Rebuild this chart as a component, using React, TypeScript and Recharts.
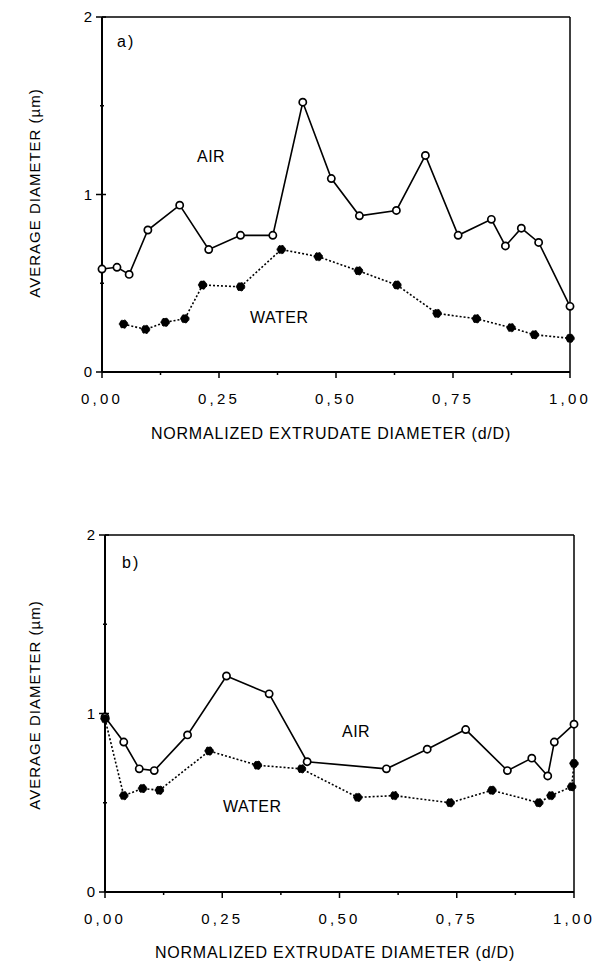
import { LineChart, Line, XAxis, YAxis, ReferenceLine } from 'recharts';

// panel a) values
const airTopX = [0, 0.032, 0.058, 0.098, 0.166, 0.228, 0.296, 0.365, 0.429, 0.49, 0.55, 0.629, 0.691, 0.761, 0.832, 0.862, 0.896, 0.933, 1.0];
const airTopY = [0.58, 0.59, 0.55, 0.8, 0.94, 0.69, 0.77, 0.77, 1.52, 1.09, 0.88, 0.91, 1.22, 0.77, 0.86, 0.71, 0.81, 0.73, 0.37];
const waterTopX = [0.046, 0.093, 0.135, 0.177, 0.215, 0.296, 0.383, 0.462, 0.548, 0.63, 0.716, 0.8, 0.874, 0.924, 1.0];
const waterTopY = [0.27, 0.24, 0.28, 0.3, 0.49, 0.48, 0.69, 0.65, 0.57, 0.49, 0.33, 0.3, 0.25, 0.21, 0.19];

// panel b)
const airBotX = [0, 0.04, 0.073, 0.105, 0.176, 0.259, 0.35, 0.431, 0.6, 0.687, 0.769, 0.858, 0.91, 0.944, 0.958, 1.0];
const airBotY = [0.98, 0.84, 0.69, 0.68, 0.88, 1.21, 1.11, 0.73, 0.69, 0.8, 0.91, 0.68, 0.75, 0.65, 0.84, 0.94];
const waterBotX = [0, 0.04, 0.08, 0.116, 0.222, 0.325, 0.419, 0.539, 0.617, 0.736, 0.825, 0.925, 0.951, 0.995, 1.0];
const waterBotY = [0.97, 0.54, 0.58, 0.57, 0.79, 0.71, 0.69, 0.53, 0.54, 0.5, 0.57, 0.5, 0.54, 0.59, 0.72];

const xTicks = [0, 0.125, 0.25, 0.375, 0.5, 0.625, 0.75, 0.875, 1];
const xLabels = ['0,00', '', '0,25', '', '0,50', '', '0,75', '', '1,00'];
const yTicks = [0, 0.5, 1, 1.5, 2];
const yLabels = ['0', '', '1', '', '2'];

const FONT = '"Liberation Sans", Arial, Helvetica, sans-serif';

const zip = (xs: number[], ys: number[]) => xs.map((x, i) => ({ x, y: ys[i] }));

const XTick = (props: any) => {
  const { x, y, index } = props;
  const label = xLabels[index];
  return (
    <g>
      <line x1={x} x2={x} y1={y} y2={y + (label ? 6 : 3)} stroke="#000" strokeWidth={1.5} />
      {index === 0 && <line x1={x} x2={x} y1={y} y2={y - 6} stroke="#000" strokeWidth={1.5} />}
      {label && (
        <text x={x} y={y + 32} textAnchor="middle" fontSize={15} fontFamily={FONT} letterSpacing={3.2} fill="#000">
          {label}
        </text>
      )}
    </g>
  );
};

const YTick = (props: any) => {
  const { x, y, index } = props;
  const label = yLabels[index];
  return (
    <g>
      <line x1={x - (label ? 6 : 2)} x2={x + (label ? 4 : 2)} y1={y} y2={y} stroke="#000" strokeWidth={1.5} />
      {label && (
        <text x={x - 10} y={y + 5} textAnchor="end" fontSize={15} fontFamily={FONT} fill="#000">
          {label}
        </text>
      )}
    </g>
  );
};

function Panel({ air, water, margin, height }: any) {
  return (
    <LineChart width={595} height={height} margin={margin}>
      <XAxis
        type="number"
        dataKey="x"
        domain={[0, 1]}
        ticks={xTicks}
        interval={0}
        tickSize={0}
        tickMargin={0}
        tick={<XTick />}
        axisLine={{ stroke: '#000', strokeWidth: 2 }}
        height={30}
      />
      <YAxis
        type="number"
        dataKey="y"
        domain={[0, 2]}
        ticks={yTicks}
        interval={0}
        tickSize={0}
        tickMargin={0}
        tick={<YTick />}
        axisLine={{ stroke: '#000', strokeWidth: 2 }}
        width={40}
      />
      <ReferenceLine y={2} stroke="#000" strokeWidth={1.5} />
      <ReferenceLine x={1} stroke="#000" strokeWidth={1.5} />
      <Line
        data={air}
        dataKey="y"
        stroke="#000"
        strokeWidth={1.6}
        dot={{ r: 3.6, fill: '#fff', stroke: '#000', strokeWidth: 1.7 }}
        isAnimationActive={false}
      />
      <Line
        data={water}
        dataKey="y"
        stroke="#000"
        strokeWidth={1.6}
        strokeDasharray="2 2"
        dot={{ r: 4.2, fill: '#000', stroke: '#000', strokeWidth: 1 }}
        isAnimationActive={false}
      />
    </LineChart>
  );
}

const txt = { fontFamily: FONT, fill: '#000' };

export default function App() {
  return (
    <div style={{ position: 'absolute', left: 0, top: 0, width: 595, height: 962, background: '#fff' }}>
      <div style={{ position: 'absolute', left: 0, top: 0 }}>
        <Panel
          air={zip(airTopX, airTopY)}
          water={zip(waterTopX, waterTopY)}
          height={420}
          margin={{ top: 17, right: 25, left: 62, bottom: 18 }}
        />
      </div>
      <div style={{ position: 'absolute', left: 0, top: 500 }}>
        <Panel
          air={zip(airBotX, airBotY)}
          water={zip(waterBotX, waterBotY)}
          height={440}
          margin={{ top: 35, right: 21, left: 65, bottom: 18 }}
        />
      </div>
      <svg width={595} height={962} style={{ position: 'absolute', left: 0, top: 0, pointerEvents: 'none' }}>
        <text {...txt} fontSize={15} letterSpacing={1} textAnchor="middle" transform="translate(40,193) rotate(-90)">AVERAGE DIAMETER (µm)</text>
        <text {...txt} fontSize={15} letterSpacing={1} textAnchor="middle" transform="translate(40,705) rotate(-90)">AVERAGE DIAMETER (µm)</text>
        <text {...txt} fontSize={16} letterSpacing={0.8} textAnchor="middle" x={331} y={439}>NORMALIZED EXTRUDATE DIAMETER (d/D)</text>
        <text {...txt} fontSize={16} letterSpacing={0.8} textAnchor="middle" x={335} y={958}>NORMALIZED EXTRUDATE DIAMETER (d/D)</text>
        <text {...txt} fontSize={16} x={117} y={47} letterSpacing={2}>a)</text>
        <text {...txt} fontSize={16} x={122} y={568} letterSpacing={2}>b)</text>
        <text {...txt} fontSize={16} letterSpacing={0.5} x={197} y={162}>AIR</text>
        <text {...txt} fontSize={16} letterSpacing={0.5} x={250} y={323}>WATER</text>
        <text {...txt} fontSize={16} letterSpacing={0.5} x={342} y={737}>AIR</text>
        <text {...txt} fontSize={16} letterSpacing={0.5} x={223} y={812}>WATER</text>
      </svg>
    </div>
  );
}
